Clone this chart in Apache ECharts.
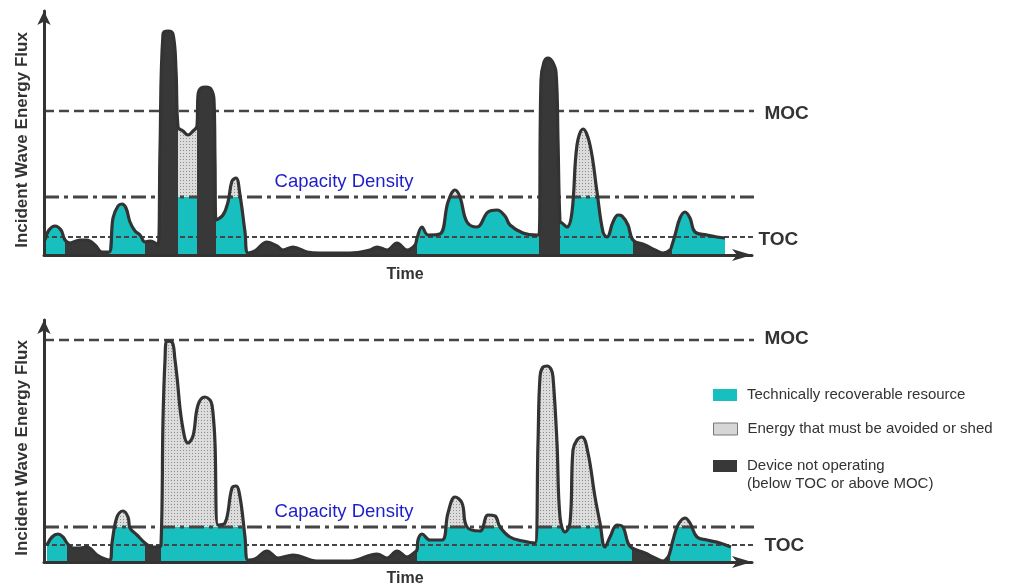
<!DOCTYPE html>
<html>
<head>
<meta charset="utf-8">
<script src="https://cdn.jsdelivr.net/npm/echarts@6/dist/echarts.min.js"></script>
<style>html,body{margin:0;padding:0;background:#fff}#c{width:1021px;height:583px}</style>
</head>
<body>
<div id="c"></div>
<script>
// ---------- DATA ----------
// Upper panel: time (arbitrary units) and incident wave energy flux
const timeTop = [1,5,11,17,21,26,36,43,51,58,65,69,74,78,82,86,91,96,101,106,111,114,116,119,124,129,132,134,139,144,149,153,154,157,162,167,170,171,172,179,184,188,192,196,201,204,211,223,233,239,249,263,276,306,326,333,343,353,363,371,373,378,384,396,404,411,416,423,433,444,453,461,466,479,493,495,497,500,504,508,512,514,516,518,523,528,533,539,546,553,559,563,569,574,578,584,589,601,611,619,626,628,631,636,641,646,651,663,673,681];
const fluxTop = [15,25,29,25,15,12,15,15,10,3,3,37,49,51,47,33,24,20,13,14,12,10,105,221,224,221,185,128,124,120,124,129,160,167,168,166,155,95,35,40,53,74,77,60,23,2,4,13,9,5,8,3,2,2,5,8,5,12,5,10,17,28,20,21,53,65,58,33,28,43,45,39,30,22,20,20,175,193,197,194,183,115,33,32,28,43,110,126,110,63,23,18,33,40,39,30,15,10,5,2,5,10,20,37,43,37,23,20,18,17];
// device state periods: [start, end, state]  op = operating, off = not operating
const segmentsTop = [[1,21,'op'],[21,65,'off'],[65,101,'op'],[101,134,'off'],[134,153,'op'],[153,172,'off'],[172,204,'op'],[204,373,'off'],[373,495,'op'],[495,516,'off'],[516,589,'op'],[589,628,'off'],[628,681,'op']];

// Lower panel
const timeBottom = [3,8,14,19,23,29,36,43,53,61,66,68,73,79,84,86,93,101,108,114,117,119,121,123,128,131,133,138,144,149,154,161,166,168,170,171,174,181,188,192,196,201,204,211,223,234,249,273,306,333,343,353,363,371,373,374,378,386,398,404,411,418,423,436,444,451,456,466,479,491,494,496,499,503,507,509,513,516,521,526,529,533,538,544,551,556,561,566,573,579,584,588,601,611,619,624,626,629,634,641,646,653,663,676,687];
const fluxBottom = [17,25,28,25,19,14,14,15,7,3,2,19,45,51,45,34,27,19,15,15,17,142,202,221,220,202,185,139,119,126,157,165,162,157,137,119,37,39,74,76,65,25,2,3,11,4,7,1,1,8,4,11,5,10,12,22,28,22,22,49,65,59,35,31,47,46,35,25,21,19,119,185,195,196,193,185,119,45,30,39,112,122,125,109,65,39,15,25,37,35,19,14,9,4,1,5,10,22,37,44,39,25,22,19,15];
const segmentsBottom = [[3,23,'op'],[23,66,'off'],[66,101,'op'],[101,117,'off'],[117,204,'op'],[204,373,'off'],[373,588,'op'],[588,626,'off'],[626,687,'op']];

// thresholds: MOC, Capacity Density, TOC
const thresholdNames = ['MOC', 'Capacity Density', 'TOC'];
const thresholdsTop = [144, 58, 18];
const thresholdsBottom = [222, 35, 17];

const legendLabels = ['Technically recoverable resource', 'Energy that must be avoided or shed', 'Device not operating\n(below TOC or above MOC)'];
const axisNames = ['Incident Wave Energy Flux', 'Time'];
const timeMax = 708;
const fluxMaxTop = 244;
const fluxMaxBottom = 242;

// ---------- STYLE / LAYOUT ----------
const FONT = '"Liberation Sans", Arial, sans-serif';
const TEAL = '#17bfbf';
const DARK = '#383838';
const INK = '#333333';
const lineEnd = 712;
const capacityLabelAt = 300;
const thresholdStyles = [
  {type: [10, 5], width: 2.5},
  {type: [15, 5, 4, 5], width: 3},
  {type: [5, 3], width: 2}
];
const panels = [
  {left: 44, top: 11, width: 708, height: 244, outerBoundsMode: 'none'},
  {left: 44, top: 320, width: 708, height: 242, outerBoundsMode: 'none'}
];
const endLabelOffsets = [
  [[0, 3], null, [-6, 3]],
  [[0, -1], null, [0, 1]]
];

const pat = document.createElement('canvas');
pat.width = 3; pat.height = 3;
const pc = pat.getContext('2d');
pc.fillStyle = '#dcdcdc'; pc.fillRect(0, 0, 3, 3);
pc.fillStyle = '#8e8e8e'; pc.fillRect(0, 0, 1, 1);
const GRAY_PATTERN = {image: pat, repeat: 'repeat'};

const SMOOTH = 0.4;
const series = [];

function pointsIn(time, flux, a, b) {
  const out = [];
  for (let i = 0; i < time.length; i++) {
    if (time[i] >= a && time[i] <= b) out.push([time[i], flux[i]]);
  }
  return out;
}

// g: main grid index, c: clip grid index (from baseline up to Capacity Density)
function buildPanel(g, c, time, flux, segments, thresholds) {
  const base = {type: 'line', smooth: SMOOTH,
    symbol: 'none', silent: true, lineStyle: {width: 0}};
  segments.forEach(function (s) {
    const pts = pointsIn(time, flux, s[0], s[1]);
    if (s[2] === 'op') {
      series.push(Object.assign({}, base, {name: legendLabels[1], xAxisIndex: g, yAxisIndex: g, data: pts, z: 1,
        itemStyle: {color: '#d8d8d8'}, areaStyle: {color: GRAY_PATTERN, opacity: 1}}));
      series.push(Object.assign({}, base, {name: legendLabels[0], xAxisIndex: c, yAxisIndex: c, data: pts, z: 2,
        clip: true, itemStyle: {color: TEAL}, areaStyle: {color: TEAL, opacity: 1}}));
    } else {
      series.push(Object.assign({}, base, {name: legendLabels[2], xAxisIndex: g, yAxisIndex: g, data: pts, z: 4,
        itemStyle: {color: DARK}, areaStyle: {color: DARK, opacity: 1}}));
    }
  });
  // outline of the flux curve
  series.push(Object.assign({}, base, {name: 'flux', xAxisIndex: g, yAxisIndex: g,
    data: time.map(function (t, i) { return [t, flux[i]]; }),
    z: 5, lineStyle: {width: 3.2, color: INK, join: 'round'}}));
  // threshold lines
  thresholds.forEach(function (v, k) {
    const lastLabel = k === 1 ? {show: false} : {show: true, position: 'right', distance: 8,
      offset: endLabelOffsets[g][k],
      formatter: thresholdNames[k], color: INK, fontSize: 19, fontWeight: 'bold', fontFamily: FONT};
    const data = [[0, v]];
    if (k === 1) {
      data.push({value: [capacityLabelAt, v], label: {show: true, position: 'top', distance: 5,
        formatter: thresholdNames[k], color: '#1e1ec8', fontSize: 18.5, fontFamily: FONT}});
    }
    data.push({value: [lineEnd, v], label: lastLabel});
    series.push({type: 'line', name: thresholdNames[k], xAxisIndex: g, yAxisIndex: g, data: data,
      clip: false, silent: true, z: 3, symbol: 'circle', symbolSize: 1, showSymbol: true,
      itemStyle: {color: 'rgba(0,0,0,0)'},
      lineStyle: {color: '#454545', width: thresholdStyles[k].width, type: thresholdStyles[k].type}});
  });
}

buildPanel(0, 2, timeTop, fluxTop, segmentsTop, thresholdsTop);
buildPanel(1, 3, timeBottom, fluxBottom, segmentsBottom, thresholdsBottom);

function clipGrid(p, cd, ymax) {
  const h = p.height * cd / ymax;
  return {left: p.left, top: p.top + p.height - h, width: p.width, height: h, outerBoundsMode: 'none'};
}

function xAx(g, gap) {
  return {type: 'value', gridIndex: g, min: 0, max: timeMax, z: 10,
    name: axisNames[1], nameLocation: 'middle', nameGap: gap,
    nameTextStyle: {fontSize: 16, fontWeight: 'bold', color: INK, fontFamily: FONT, padding: [0, 0, 0, 14]},
    axisLine: {show: true, lineStyle: {color: INK, width: 3}, symbol: ['none', 'arrow'], symbolSize: [9, 20]},
    axisTick: {show: false}, axisLabel: {show: false}, splitLine: {show: false}};
}
function yAx(g, max) {
  return {type: 'value', gridIndex: g, min: 0, max: max, z: 10,
    name: axisNames[0], nameLocation: 'middle', nameGap: 13, nameRotate: 90,
    nameTextStyle: {fontSize: 17, fontWeight: 'bold', color: INK, fontFamily: FONT, padding: [0, 14, 0, 0]},
    axisLine: {show: true, lineStyle: {color: INK, width: 3}, symbol: ['none', 'arrow'], symbolSize: [10, 14]},
    axisTick: {show: false}, axisLabel: {show: false}, splitLine: {show: false}};
}
function hiddenX(g) { return {type: 'value', gridIndex: g, min: 0, max: timeMax, show: false}; }
function hiddenY(g, max) { return {type: 'value', gridIndex: g, min: 0, max: max, show: false}; }

function legendFor(k, top, fmt) {
  const style = [{color: TEAL, borderWidth: 0}, {color: '#d6d6d6', borderColor: '#777', borderWidth: 1}, {color: DARK, borderWidth: 0}][k];
  const l = {orient: 'vertical', left: 708, top: top, icon: 'rect', itemWidth: 24, itemHeight: 12,
    selectedMode: false, data: [{name: legendLabels[k], itemStyle: style}],
    textStyle: {fontSize: 15, color: INK, fontFamily: FONT, lineHeight: 18, padding: [0, 0, 0, 5]}};
  if (fmt) l.formatter = fmt;
  return l;
}

const chart = echarts.init(document.getElementById('c'), null, {renderer: 'canvas'});
chart.setOption({
  animation: false,
  backgroundColor: '#ffffff',
  textStyle: {fontFamily: FONT},
  grid: [
    panels[0], panels[1],
    clipGrid(panels[0], thresholdsTop[1], fluxMaxTop),
    clipGrid(panels[1], thresholdsBottom[1], fluxMaxBottom)
  ],
  xAxis: [xAx(0, 12), xAx(1, 9), hiddenX(2), hiddenX(3)],
  yAxis: [yAx(0, fluxMaxTop), yAx(1, fluxMaxBottom), hiddenY(2, thresholdsTop[1]), hiddenY(3, thresholdsBottom[1])],
  legend: [legendFor(0, 381), legendFor(1, 415), legendFor(2, 434, function (n) { return '\n' + n; })],
  series: series
});
</script>
</body>
</html>
